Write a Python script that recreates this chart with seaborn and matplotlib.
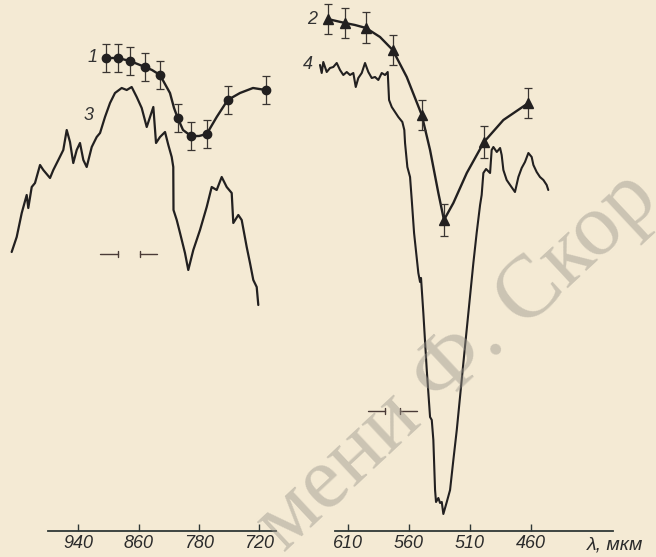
import numpy as np
import matplotlib
matplotlib.use("Agg")
import matplotlib.pyplot as plt
import seaborn as sns

# ---- left panel (940..720) ----
# curve 3: recorded trace
lam3 = [1027.0, 1020.4, 1013.8, 1007.3, 1005.2, 1000.7, 996.4, 989.8, 985.5, 976.7,
        972.4, 965.8, 959.3, 954.8, 950.5, 946.2, 941.7, 937.4, 933.0, 928.6,
        922.0, 915.5, 911.1, 904.6, 898.0, 891.5, 882.7, 876.1, 869.6, 863.0,
        856.4, 849.7, 845.3, 840.9, 837.3, 832.0, 825.3, 820.9, 816.4, 814.3,
        814.0, 809.7, 805.3, 798.7, 794.3, 787.6, 779.0, 772.3, 767.3, 762.3,
        757.3, 752.3, 747.3, 745.7, 740.7, 737.3, 732.3, 729.0, 725.7, 722.3, 720.7]
y3 = [2.79, 2.94, 3.18, 3.36, 3.23, 3.44, 3.48, 3.66, 3.61, 3.53,
      3.61, 3.71, 3.81, 4.01, 3.89, 3.68, 3.81, 3.88, 3.71, 3.64,
      3.84, 3.94, 3.98, 4.14, 4.28, 4.38, 4.43, 4.41, 4.44, 4.34,
      4.23, 4.04, 4.14, 4.24, 3.88, 3.94, 3.99, 3.86, 3.74, 3.64,
      3.21, 3.11, 2.98, 2.78, 2.61, 2.81, 3.01, 3.24, 3.44, 3.41,
      3.54, 3.44, 3.38, 3.08, 3.16, 3.11, 2.84, 2.68, 2.51, 2.44, 2.26]

# curve 1: measured points and the drawn smooth line
lam1 = [903.3, 887.9, 871.8, 852.0, 832.0, 808.4, 790.7, 772.3, 751.3, 713.3]
y1 = [4.73, 4.73, 4.70, 4.64, 4.56, 4.13, 3.95, 3.97, 4.31, 4.41]
err1 = [0.14, 0.14, 0.14, 0.14, 0.14, 0.14, 0.14, 0.14, 0.14, 0.14]
lam1_line = [903.3, 887.9, 871.8, 852.0, 842.7, 832.0, 818.7, 813.3, 808.4, 801.3,
             790.7, 780.0, 772.3, 762.3, 751.3, 739.0, 726.0, 713.3]
y1_line = [4.73, 4.73, 4.70, 4.64, 4.61, 4.56, 4.38, 4.23, 4.13, 4.01,
           3.95, 3.95, 3.97, 4.14, 4.31, 4.38, 4.43, 4.41]

# ---- right panel (610..460) ----
lam4 = [632.7, 631.3, 630.0, 627.2, 624.5, 621.8, 619.0, 616.3, 613.6, 610.8,
        608.1, 605.4, 603.4, 601.3, 598.5, 595.8, 593.1, 590.3, 587.6, 584.9,
        582.1, 579.4, 577.2, 576.1, 573.9, 571.2, 568.5, 565.2, 563.6, 563.0,
        561.1, 558.9, 557.5, 555.6, 552.1, 550.7, 549.9, 548.0, 545.2, 542.5,
        541.1, 539.8, 538.4, 537.6, 535.7, 534.3, 532.9, 531.6, 528.8, 526.1,
        523.4, 520.6, 515.2, 511.1, 507.0, 504.3, 501.5, 500.2, 498.8, 496.6,
        493.3, 492.0, 490.6, 487.8, 485.1, 483.8, 482.4, 479.7, 476.9, 472.9,
        470.1, 467.4, 464.7, 461.9, 459.2, 457.8, 455.1, 452.4, 449.6, 446.9, 445.6]
y4 = [4.66, 4.58, 4.69, 4.59, 4.63, 4.64, 4.68, 4.61, 4.56, 4.59,
      4.56, 4.58, 4.44, 4.53, 4.58, 4.68, 4.59, 4.53, 4.54, 4.51,
      4.58, 4.56, 4.59, 4.31, 4.24, 4.19, 4.14, 4.09, 4.01, 3.88,
      3.64, 3.54, 3.31, 2.98, 2.58, 2.49, 2.53, 2.18, 1.61, 1.14,
      1.11, 0.91, 0.41, 0.29, 0.33, 0.28, 0.29, 0.17, 0.29, 0.41,
      0.71, 1.01, 1.68, 2.18, 2.68, 2.98, 3.26, 3.36, 3.58, 3.62,
      3.58, 3.81, 3.84, 3.79, 3.83, 3.76, 3.61, 3.51, 3.46, 3.39,
      3.54, 3.63, 3.69, 3.78, 3.74, 3.66, 3.59, 3.54, 3.51, 3.46, 3.41]

lam2 = [626.4, 612.2, 595.0, 573.1, 549.3, 531.1, 498.3, 461.9]
y2 = [5.12, 5.08, 5.03, 4.81, 4.16, 3.11, 3.89, 4.28]
err2 = [0.15, 0.15, 0.155, 0.15, 0.15, 0.16, 0.16, 0.15]
lam2_line = [626.4, 612.2, 604.0, 595.0, 583.5, 573.1, 561.6, 549.3, 542.5, 535.7,
             531.1, 523.4, 512.4, 498.3, 482.4, 461.9]
y2_line = [5.12, 5.08, 5.06, 5.03, 4.94, 4.81, 4.54, 4.16, 3.81, 3.38,
           3.11, 3.28, 3.58, 3.89, 4.11, 4.28]

# slit width marks
slit_left = [(911.1, 887.5), (858.7, 836.0)]
slit_left_y = 2.77
slit_right = [(593.1, 579.4), (567.1, 553.4)]
slit_right_y = 1.20

left_ticks = [940, 860, 780, 720]
right_ticks = [610, 560, 510, 460]

bg = "#f4ead4"
ink = "#222020"
axis_col = "#2f3836"

sns.set_theme(style="white")
plt.rcParams['font.family'] = ['Liberation Sans', 'DejaVu Sans']

fig = plt.figure(figsize=(6.56, 5.57), dpi=100, facecolor=bg)
H = 557.0
W = 656.0
ax1 = fig.add_axes([0, 26 / H, 300 / W, 531 / H])
ax2 = fig.add_axes([300 / W, 26 / H, 356 / W, 531 / H])

# left panel: non-uniform wavelength scale of the original drawing
sc_lam = np.array([600.0, 720.0, 780.0, 860.0, 940.0, 1100.0])
sc_pos = np.array([-379.0, -259.0, -199.0, -139.0, -78.0, 44.0])


def fwd(l):
    return np.interp(np.asarray(l, dtype=float), sc_lam, sc_pos)


def inv(p):
    return np.interp(np.asarray(p, dtype=float), sc_pos, sc_lam)


sns.lineplot(x=lam3, y=y3, ax=ax1, color=ink, lw=1.6, sort=False, estimator=None)
sns.lineplot(x=lam1_line, y=y1_line, ax=ax1, color=ink, lw=1.7, sort=False, estimator=None)
ax1.errorbar(lam1, y1, yerr=err1, fmt='o', ms=6, color=ink, ecolor="#3a3532",
             elinewidth=0.9, capsize=3, capthick=0.9)

sns.lineplot(x=lam4, y=y4, ax=ax2, color=ink, lw=1.5, sort=False, estimator=None)
sns.lineplot(x=lam2_line, y=y2_line, ax=ax2, color=ink, lw=1.7, sort=False, estimator=None)
ax2.errorbar(lam2, y2, yerr=err2, fmt='^', ms=7, color=ink, ecolor="#3a3532",
             elinewidth=0.9, capsize=3, capthick=0.9)

for ax, slits, sy in [(ax1, slit_left, slit_left_y), (ax2, slit_right, slit_right_y)]:
    (a0, a1), (b0, b1) = slits
    ax.plot([a0, a1], [sy, sy], color="#4a3b37", lw=1.0)
    ax.plot([b0, b1], [sy, sy], color="#4a3b37", lw=1.0)
    ax.plot([a1, a1], [sy - 0.03, sy + 0.03], color="#4a3b37", lw=1.0)
    ax.plot([b0, b0], [sy - 0.03, sy + 0.03], color="#4a3b37", lw=1.0)

ax1.set_xscale('function', functions=(fwd, inv))
ax1.set_xlim(1042.3, 679.0)
ax1.spines['bottom'].set_bounds(979.3, 703.0)
ax1.set_xticks(left_ticks)
ax1.set_xticklabels([str(t) for t in left_ticks])

ax2.set_xlim(649.1, 357.3)
ax2.spines['bottom'].set_bounds(620.4, 392.4)
ax2.set_xticks(right_ticks)
ax2.set_xticklabels([str(t) for t in right_ticks])

for ax in (ax1, ax2):
    ax.set_ylim(0, 5.31)
    ax.patch.set_visible(False)
    for s in ('top', 'right', 'left'):
        ax.spines[s].set_visible(False)
    ax.spines['bottom'].set_color(axis_col)
    ax.spines['bottom'].set_linewidth(1.3)
    ax.set_yticks([])
    ax.set_xlabel('')
    ax.set_ylabel('')
    ax.tick_params(axis='x', direction='in', length=5, width=1, color=axis_col,
                   labelsize=13, labelcolor="#2b2b2b", pad=3, bottom=True)
    for lbl in ax.get_xticklabels():
        lbl.set_style('italic')

# curve numbers
ax1.text(921.6, 4.73, "1", fontsize=13, style='italic', color="#333", ha='center', va='center')
ax1.text(925.6, 4.15, "3", fontsize=13, style='italic', color="#333", ha='center', va='center')
ax2.text(639.3, 5.11, "2", fontsize=13, style='italic', color="#333", ha='center', va='center')
ax2.text(642.5, 4.66, "4", fontsize=13, style='italic', color="#333", ha='center', va='center')

fig.text(587 / W, 1 - 545 / H, "λ, мкм", ha='left', va='center', fontsize=14,
         style='italic', color="#2b2b2b")

# library stamp across the page (only the part that falls on the page)
fig.text(458 / W, 1 - 362 / H, "мени Ф. Скор", rotation=43, rotation_mode='anchor',
         ha='center', va='center', fontsize=64, family=['Liberation Serif', 'DejaVu Serif'],
         color="#9a958c", alpha=0.45)

fig.savefig("out.png", dpi=100, facecolor=bg)
